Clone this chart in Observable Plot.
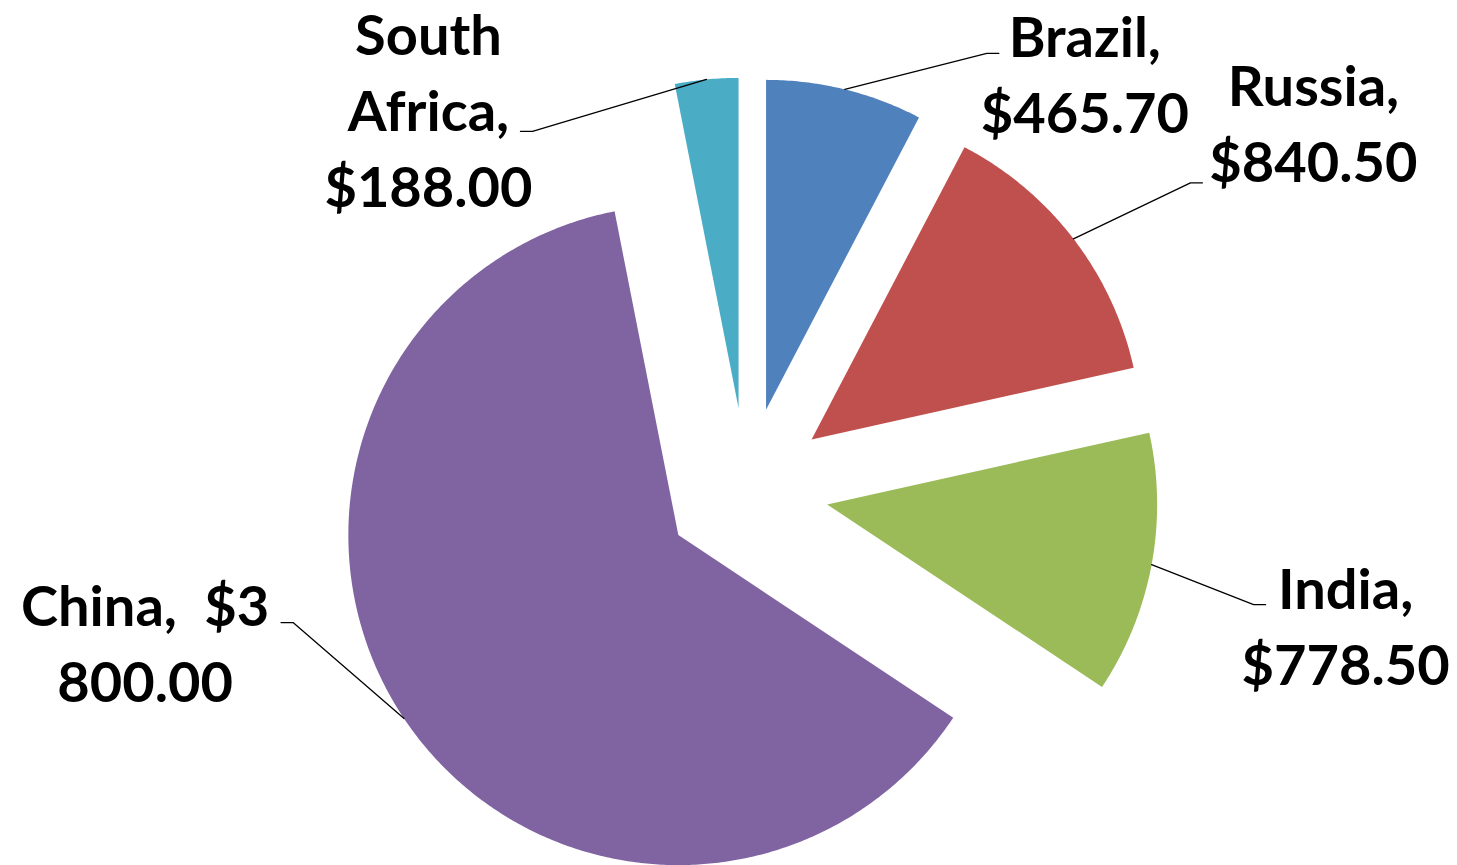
<!DOCTYPE html>
<html>
<head>
<meta charset="utf-8">
<script src="https://cdn.jsdelivr.net/npm/d3@7"></script>
<script src="https://cdn.jsdelivr.net/npm/@observablehq/plot@0.6"></script>
<style>
  html, body { margin: 0; padding: 0; background: #fff; }
  #chart svg { display: block; }
  #chart svg text { white-space: pre; }
</style>
</head>
<body>
<div id="chart"></div>
<script>
// ---- data ----
const countries = ["Brazil", "Russia", "India", "China", "South Africa"];
const gdp = [465.70, 840.50, 778.50, 3800.00, 188.00];
const colors = ["#4F81BD", "#C0504D", "#9BBB59", "#8064A2", "#4BACC6"];

// ---- layout (pixel units of the x/y scales) ----
const W = 1457, H = 865;
const cx = 746, cy = 489, R = 330, explode = 82;
// per-label placement: elbow offset from arc midpoint, text-centre offset from elbow
const labelLayout = {
  "Brazil":       {elbow: [142, -36], text: [98, 17]},
  "Russia":       {elbow: [117, -56], text: [123, -63]},
  "India":        {elbow: [102, 40],  text: [92, 18]},
  "China":        {elbow: [-111, -96], text: [-148, 17]},
  "South Africa": {elbow: [-174, 52], text: [-104, -25]}
};

const fmt = v => "$" + d3.format(",.2f")(v).replace(/,/g, " ");
function wrap(str, max) {
  const words = str.split(" ");
  const lines = [];
  let cur = "";
  for (const w of words) {
    const cand = cur === "" ? w : cur + " " + w;
    if (cand.length > max && cur !== "") { lines.push(cur.trim()); cur = w; }
    else cur = cand;
  }
  if (cur.trim() !== "") lines.push(cur.trim());
  return lines.join("\n");
}

const total = d3.sum(gdp);
const rows = countries.map((name, i) => ({name, value: gdp[i]}));
let acc = 0;
const slices = rows.map(d => {
  const a0 = acc / total * 2 * Math.PI;
  acc += d.value;
  const a1 = acc / total * 2 * Math.PI;
  const mid = (a0 + a1) / 2;
  const ox = cx + explode * Math.sin(mid), oy = cy - explode * Math.cos(mid);
  return {...d, a0, a1, mid, ox, oy};
});

// slice outlines (apex + arc)
const slicePts = [];
for (const s of slices) {
  slicePts.push({name: s.name, x: s.ox, y: s.oy});
  const n = Math.max(8, Math.ceil((s.a1 - s.a0) / (Math.PI / 360)));
  for (let k = 0; k <= n; k++) {
    const a = s.a0 + (s.a1 - s.a0) * k / n;
    slicePts.push({name: s.name, x: s.ox + R * Math.sin(a), y: s.oy - R * Math.cos(a)});
  }
}

// leader lines and labels
const leaderPts = [];
const labels = [];
for (const s of slices) {
  const L = labelLayout[s.name];
  const mx = s.ox + R * Math.sin(s.mid), my = s.oy - R * Math.cos(s.mid);
  const ex = mx + L.elbow[0], ey = my + L.elbow[1];
  const side = Math.sign(L.text[0]);
  leaderPts.push({name: s.name, x: mx, y: my});
  leaderPts.push({name: s.name, x: ex, y: ey});
  leaderPts.push({name: s.name, x: ex + side * 12, y: ey});
  labels.push({
    name: s.name,
    x: ex + L.text[0], y: ey + L.text[1],
    label: wrap(`${s.name},  ${fmt(s.value)}`, 10)
  });
}

const chart = Plot.plot({
  width: W, height: H,
  margin: 0,
  style: {background: "#fff"},
  x: {domain: [0, W], range: [0, W], axis: null},
  y: {domain: [0, H], range: [0, H], axis: null},
  color: {domain: countries, range: colors},
  marks: [
    Plot.line(slicePts, {x: "x", y: "y", z: "name", fill: "name", stroke: "none", curve: "linear-closed"}),
    Plot.line(leaderPts, {x: "x", y: "y", z: "name", stroke: "#000", strokeWidth: 1.3}),
    Plot.text(labels, {
      x: "x", y: "y", text: "label",
      fontSize: 56, fontWeight: "bold", fontFamily: "Lato",
      lineHeight: 1.36, textAnchor: "middle", lineAnchor: "middle",
      fill: "#000"
    })
  ]
});
document.getElementById("chart").appendChild(chart);
</script>
</body>
</html>
